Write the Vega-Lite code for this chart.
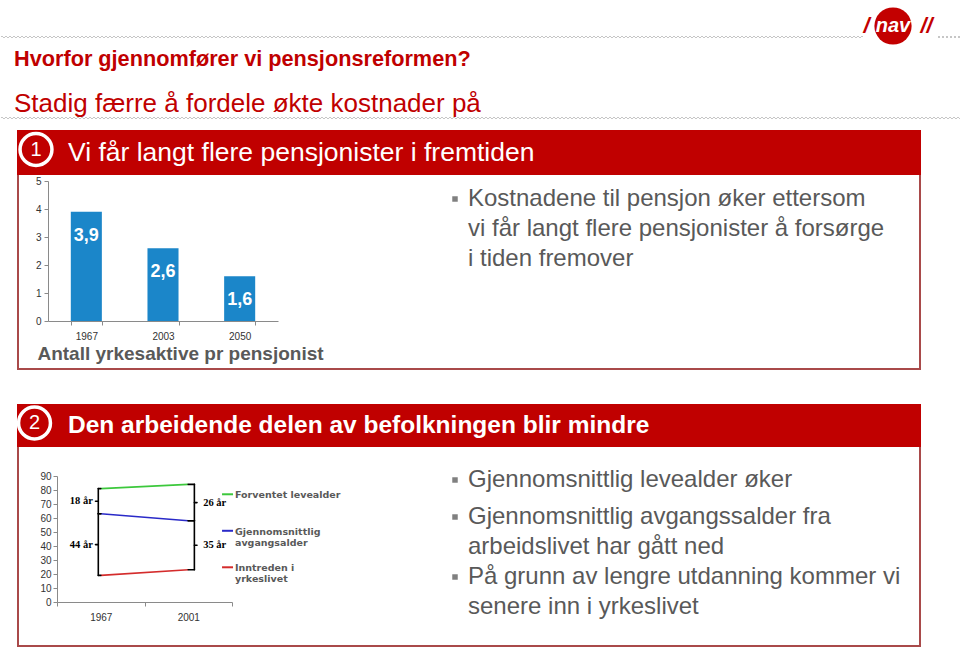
{
  "$schema": "https://vega.github.io/schema/vega-lite/v6.json",
  "padding": 0,
  "background": "white",
  "data": {"values": []},
  "spacing": 0,
  "bounds": "flush",
  "config": {
    "view": {"stroke": null},
    "concat": {"spacing": 0},
    "font": "Liberation Sans",
    "axis": {"labelFont": "Liberation Sans", "labelColor": "#333333", "labelFontSize": 10, "domainColor": "#8a8a8a", "tickColor": "#8a8a8a", "tickSize": 4, "grid": false, "titleFont": "Liberation Sans", "labelOverlap": false},
    "locale": {"number": {"decimal": ",", "thousands": " ", "grouping": [3], "currency": ["", " kr"]}}
  },
  "vconcat": [
    {"spacing": 0, "bounds": "flush", "hconcat": [
      {"spacing": 0, "bounds": "flush", "vconcat": [
        {"width": 862, "height": 36, "mark": {"type": "point", "opacity": 0}},
        {"spacing": 0, "bounds": "flush", "hconcat": [
          {"width": 1, "height": 1, "mark": {"type": "point", "opacity": 0}},
          {"width": 861, "height": 1, "mark": {"type": "point", "opacity": 0}, "view": {"stroke": "#8c8c8c", "strokeDash": [1, 3], "strokeWidth": 1}}
        ]}
      ]},
      {"width": 862, "height": 52, "mark": {"type": "point", "opacity": 0}},
      {"width": 9, "height": 52, "data": {"values": [{"t": "/"}]}, "mark": {"type": "text", "fontWeight": "bold", "fontStyle": "italic", "fontSize": 22, "color": "#c30000", "align": "center", "baseline": "middle"}, "encoding": {"text": {"field": "t", "type": "nominal"}}},
      {"width": 44, "height": 52, "data": {"values": [{"t": "nav"}]}, "layer": [
        {"mark": {"type": "point", "shape": "circle", "filled": true, "size": 1385, "color": "#c30000", "opacity": 1}},
        {"mark": {"type": "text", "fontWeight": "bold", "fontStyle": "italic", "fontSize": 20, "color": "white", "align": "center", "baseline": "middle"}, "encoding": {"text": {"field": "t", "type": "nominal"}}}
      ]},
      {"width": 23, "height": 52, "data": {"values": [{"t": "//"}]}, "mark": {"type": "text", "fontWeight": "bold", "fontStyle": "italic", "fontSize": 22, "color": "#c30000", "align": "center", "baseline": "middle"}, "encoding": {"text": {"field": "t", "type": "nominal"}}},
      {"spacing": 0, "bounds": "flush", "vconcat": [
        {"width": 22, "height": 36, "mark": {"type": "point", "opacity": 0}},
        {"width": 22, "height": 1, "mark": {"type": "point", "opacity": 0}, "view": {"stroke": "#8c8c8c", "strokeDash": [1, 3], "strokeWidth": 1}}
      ]},
      {"width": 22, "height": 52, "mark": {"type": "point", "opacity": 0}}
    ]},
    {"width": 960, "height": 52, "mark": {"type": "point", "opacity": 0}},
    {"spacing": 0, "bounds": "flush", "hconcat": [
      {"width": 13, "height": 65, "mark": {"type": "point", "opacity": 0}},
      {"spacing": 0, "bounds": "flush", "vconcat": [
        {"width": 2, "height": 13, "mark": {"type": "point", "opacity": 0}},
        {"width": 2, "height": 2, "data": {"values": [{"t": "Hvorfor gjennomfører vi pensjonsreformen?"}]}, "mark": {"type": "text", "align": "left", "baseline": "alphabetic", "fontWeight": "bold", "fontSize": 21.7, "color": "#c00000"}, "encoding": {"text": {"field": "t", "type": "nominal"}}},
        {"width": 2, "height": 44, "mark": {"type": "point", "opacity": 0}},
        {"width": 2, "height": 2, "data": {"values": [{"t": "Stadig færre å fordele økte kostnader på"}]}, "mark": {"type": "text", "align": "left", "baseline": "alphabetic", "fontSize": 26, "color": "#c00000"}, "encoding": {"text": {"field": "t", "type": "nominal"}}}
      ]}
    ]},
    {"width": 960, "height": 65, "mark": {"type": "point", "opacity": 0}},
    {"spacing": 0, "bounds": "flush", "hconcat": [
      {"width": 1, "height": 1, "mark": {"type": "point", "opacity": 0}},
      {"width": 959, "height": 1, "mark": {"type": "point", "opacity": 0}, "view": {"stroke": "#8c8c8c", "strokeDash": [1, 3], "strokeWidth": 1}}
    ]},
    {"width": 960, "height": 13, "mark": {"type": "point", "opacity": 0}},
    {"spacing": 0, "bounds": "flush", "hconcat": [
      {"width": 17, "height": 45, "mark": {"type": "point", "opacity": 0}},
      {"width": 904, "height": 45, "view": {"fill": "#c00000"}, "mark": {"type": "point", "opacity": 0}}
    ]},
    {"spacing": 0, "bounds": "flush", "hconcat": [
      {"width": 17, "height": 45, "mark": {"type": "point", "opacity": 0}},
      {"spacing": 0, "bounds": "flush", "vconcat": [
        {"width": 38, "height": 39, "data": {"values": [{"n": "1"}]}, "layer": [
          {"mark": {"type": "point", "shape": "circle", "filled": true, "size": 1018, "fill": "#c00000", "stroke": "white", "strokeWidth": 3.5, "opacity": 1}},
          {"mark": {"type": "text", "color": "white", "fontSize": 20, "align": "center", "baseline": "middle"}, "encoding": {"text": {"field": "n", "type": "nominal"}}}
        ]},
        {"width": 38, "height": 6, "mark": {"type": "point", "opacity": 0}}
      ]},
      {"width": 38, "height": 45, "mark": {"type": "point", "opacity": 0}},
      {"width": 12, "height": 45, "mark": {"type": "point", "opacity": 0}},
      {"width": 2, "height": 45, "data": {"values": [{"t": "Vi får langt flere pensjonister i fremtiden"}]}, "mark": {"type": "text", "align": "left", "baseline": "middle", "fontSize": 26.5, "color": "white"}, "encoding": {"text": {"field": "t", "type": "nominal"}}}
    ]},
    {"width": 960, "height": 45, "mark": {"type": "point", "opacity": 0}},
    {"spacing": 0, "bounds": "flush", "hconcat": [
      {"width": 17, "height": 193, "mark": {"type": "point", "opacity": 0}},
      {"width": 2, "height": 193, "view": {"fill": "#a94a4a"}, "mark": {"type": "point", "opacity": 0}},
      {"width": 29, "height": 193, "mark": {"type": "point", "opacity": 0}},
      {"spacing": 0, "bounds": "flush", "vconcat": [
        {"width": 230, "height": 6, "mark": {"type": "point", "opacity": 0}},
        {"width": 230, "height": 140,
         "data": {"values": [{"year": "1967", "value": 3.9}, {"year": "2003", "value": 2.6}, {"year": "2050", "value": 1.6}]},
         "encoding": {
           "x": {"field": "year", "type": "ordinal", "scale": {"paddingInner": 0.595, "paddingOuter": 0.2975},
                 "axis": {"title": "Antall yrkesaktive pr pensjonist", "titleFontSize": 19, "titleFontWeight": "bold", "titleColor": "#595959", "titlePadding": 3, "titleX": 132, "titleAlign": "center", "labelAngle": 0, "tickBand": "extent", "labelPadding": 6}},
           "y": {"field": "value", "type": "quantitative", "scale": {"domain": [0, 5], "nice": false},
                 "axis": {"title": null, "values": [0, 1, 2, 3, 4, 5], "labelPadding": 3}}
         },
         "layer": [
           {"mark": {"type": "bar", "color": "#1b86c9"}},
           {"mark": {"type": "text", "color": "white", "fontWeight": "bold", "fontSize": 18, "baseline": "middle", "dy": 24}, "encoding": {"text": {"field": "value", "type": "quantitative", "format": ".1f"}}}
         ]}
      ]},
      {"width": 230, "height": 193, "mark": {"type": "point", "opacity": 0}},
      {"width": 172, "height": 193, "mark": {"type": "point", "opacity": 0}},
      {"spacing": 0, "bounds": "flush", "vconcat": [
        {"width": 10, "height": 23, "mark": {"type": "point", "opacity": 0}},
        {"width": 10, "height": 2, "data": {"values": [{"b": 1}]}, "mark": {"type": "point", "shape": "square", "filled": true, "size": 30, "color": "#808080", "opacity": 1}}
      ]},
      {"width": 10, "height": 193, "mark": {"type": "point", "opacity": 0}},
      {"width": 7, "height": 193, "mark": {"type": "point", "opacity": 0}},
      {"spacing": 0, "bounds": "flush", "vconcat": [
        {"width": 2, "height": 30, "mark": {"type": "point", "opacity": 0}},
        {"width": 2, "height": 2, "data": {"values": [{"t": "Kostnadene til pensjon øker ettersom\nvi får langt flere pensjonister å forsørge\ni tiden fremover"}]}, "mark": {"type": "text", "align": "left", "baseline": "alphabetic", "fontSize": 24, "color": "#595959", "lineBreak": "\n", "lineHeight": 30}, "encoding": {"text": {"field": "t", "type": "nominal"}}}
      ]},
      {"width": 2, "height": 193, "mark": {"type": "point", "opacity": 0}},
      {"width": 450, "height": 193, "mark": {"type": "point", "opacity": 0}},
      {"width": 2, "height": 193, "view": {"fill": "#a94a4a"}, "mark": {"type": "point", "opacity": 0}}
    ]},
    {"width": 960, "height": 193, "mark": {"type": "point", "opacity": 0}},
    {"spacing": 0, "bounds": "flush", "hconcat": [
      {"width": 17, "height": 2, "mark": {"type": "point", "opacity": 0}},
      {"width": 904, "height": 2, "view": {"fill": "#a94a4a"}, "mark": {"type": "point", "opacity": 0}}
    ]},
    {"width": 960, "height": 2, "mark": {"type": "point", "opacity": 0}},
    {"width": 960, "height": 34, "mark": {"type": "point", "opacity": 0}},
    {"spacing": 0, "bounds": "flush", "hconcat": [
      {"width": 17, "height": 43, "mark": {"type": "point", "opacity": 0}},
      {"width": 904, "height": 43, "view": {"fill": "#c00000"}, "mark": {"type": "point", "opacity": 0}}
    ]},
    {"spacing": 0, "bounds": "flush", "hconcat": [
      {"width": 17, "height": 43, "mark": {"type": "point", "opacity": 0}},
      {"spacing": 0, "bounds": "flush", "vconcat": [
        {"width": 35, "height": 38, "data": {"values": [{"n": "2"}]}, "layer": [
          {"mark": {"type": "point", "shape": "circle", "filled": true, "size": 1018, "fill": "#c00000", "stroke": "white", "strokeWidth": 3.5, "opacity": 1}},
          {"mark": {"type": "text", "color": "white", "fontSize": 20, "align": "center", "baseline": "middle"}, "encoding": {"text": {"field": "n", "type": "nominal"}}}
        ]},
        {"width": 35, "height": 5, "mark": {"type": "point", "opacity": 0}}
      ]},
      {"width": 35, "height": 43, "mark": {"type": "point", "opacity": 0}},
      {"width": 15, "height": 43, "mark": {"type": "point", "opacity": 0}},
      {"width": 2, "height": 43, "data": {"values": [{"t": "Den arbeidende delen av befolkningen blir mindre"}]}, "mark": {"type": "text", "align": "left", "baseline": "middle", "fontWeight": "bold", "fontSize": 24.5, "color": "white"}, "encoding": {"text": {"field": "t", "type": "nominal"}}}
    ]},
    {"width": 960, "height": 43, "mark": {"type": "point", "opacity": 0}},
    {"spacing": 0, "bounds": "flush", "hconcat": [
      {"width": 17, "height": 198, "mark": {"type": "point", "opacity": 0}},
      {"width": 2, "height": 198, "view": {"fill": "#a94a4a"}, "mark": {"type": "point", "opacity": 0}},
      {"width": 38, "height": 198, "mark": {"type": "point", "opacity": 0}},
      {"spacing": 0, "bounds": "flush", "vconcat": [
        {"width": 175, "height": 29, "mark": {"type": "point", "opacity": 0}},
        {"width": 175, "height": 126,
         "resolve": {"scale": {"y": "independent"}, "axis": {"y": "independent"}},
         "layer": [
           {"layer": [
             {"data": {"values": [
                {"year": "1967", "series": "Forventet levealder", "age": 81},
                {"year": "2001", "series": "Forventet levealder", "age": 84},
                {"year": "1967", "series": "Gjennomsnittlig avgangsalder", "age": 63},
                {"year": "2001", "series": "Gjennomsnittlig avgangsalder", "age": 58},
                {"year": "1967", "series": "Inntreden i yrkeslivet", "age": 19},
                {"year": "2001", "series": "Inntreden i yrkeslivet", "age": 23}]},
              "mark": {"type": "line", "strokeWidth": 1.6},
              "encoding": {
                "x": {"field": "year", "type": "ordinal", "scale": {"type": "band", "domain": ["1967", "2001"], "paddingInner": 0, "paddingOuter": 0},
                      "axis": {"title": null, "labelAngle": 0, "tickBand": "extent", "labelPadding": 6}},
                "y": {"field": "age", "type": "quantitative", "scale": {"domain": [0, 90], "nice": false},
                      "axis": {"title": null, "values": [0, 10, 20, 30, 40, 50, 60, 70, 80, 90], "tickCount": 10, "labelPadding": 2, "labelOverlap": false}},
                "color": {"field": "series", "type": "nominal", "scale": {"domain": ["Forventet levealder", "Gjennomsnittlig avgangsalder", "Inntreden i yrkeslivet"], "range": ["#3cc83c", "#2a2ac8", "#d42c2c"]}, "legend": null}
              }},
             {"data": {"values": [
                {"year": "1967", "brace": "18 år", "age": 81}, {"year": "1967", "brace": "18 år", "age": 63},
                {"year": "1967", "brace": "44 år", "age": 63}, {"year": "1967", "brace": "44 år", "age": 19}]},
              "layer": [
                {"mark": {"type": "rule", "color": "#000000", "strokeWidth": 1.6, "strokeCap": "round"},
                 "encoding": {"x": {"field": "year", "type": "ordinal", "bandPosition": 0.472, "title": null}, "y": {"aggregate": "max", "field": "age", "type": "quantitative", "title": null, "axis": {"title": null, "values": [0, 10, 20, 30, 40, 50, 60, 70, 80, 90], "tickCount": 10, "labelPadding": 2, "labelOverlap": false}}, "y2": {"aggregate": "min", "field": "age"}, "detail": {"field": "brace", "type": "nominal"}}},
                {"mark": {"type": "rule", "color": "#000000", "strokeWidth": 1.6, "strokeCap": "round"},
                 "encoding": {"x": {"field": "year", "type": "ordinal", "bandPosition": 0.472, "title": null}, "x2": {"field": "year", "bandPosition": 0.5}, "y": {"field": "age", "type": "quantitative", "title": null, "axis": {"title": null, "values": [0, 10, 20, 30, 40, 50, 60, 70, 80, 90], "tickCount": 10, "labelPadding": 2, "labelOverlap": false}}}},
                {"mark": {"type": "rule", "color": "#000000", "strokeWidth": 1.6, "strokeCap": "round"},
                 "encoding": {"x": {"field": "year", "type": "ordinal", "bandPosition": 0.44, "title": null}, "x2": {"field": "year", "bandPosition": 0.472}, "y": {"aggregate": "mean", "field": "age", "type": "quantitative", "title": null, "axis": {"title": null, "values": [0, 10, 20, 30, 40, 50, 60, 70, 80, 90], "tickCount": 10, "labelPadding": 2, "labelOverlap": false}}, "detail": {"field": "brace", "type": "nominal"}}},
                {"mark": {"type": "text", "align": "right", "baseline": "middle", "font": "Liberation Serif", "fontWeight": "bold", "fontSize": 10.5, "color": "#000000"},
                 "encoding": {"x": {"field": "year", "type": "ordinal", "bandPosition": 0.41, "title": null}, "y": {"aggregate": "mean", "field": "age", "type": "quantitative", "title": null, "axis": {"title": null, "values": [0, 10, 20, 30, 40, 50, 60, 70, 80, 90], "tickCount": 10, "labelPadding": 2, "labelOverlap": false}}, "text": {"field": "brace", "type": "nominal"}}}
              ]},
             {"data": {"values": [
                {"year": "2001", "brace": "26 år", "age": 84}, {"year": "2001", "brace": "26 år", "age": 58},
                {"year": "2001", "brace": "35 år", "age": 58}, {"year": "2001", "brace": "35 år", "age": 23}]},
              "layer": [
                {"mark": {"type": "rule", "color": "#000000", "strokeWidth": 1.6, "strokeCap": "round"},
                 "encoding": {"x": {"field": "year", "type": "ordinal", "bandPosition": 0.57, "title": null}, "y": {"aggregate": "max", "field": "age", "type": "quantitative", "title": null, "axis": {"title": null, "values": [0, 10, 20, 30, 40, 50, 60, 70, 80, 90], "tickCount": 10, "labelPadding": 2, "labelOverlap": false}}, "y2": {"aggregate": "min", "field": "age"}, "detail": {"field": "brace", "type": "nominal"}}},
                {"mark": {"type": "rule", "color": "#000000", "strokeWidth": 1.6, "strokeCap": "round"},
                 "encoding": {"x": {"field": "year", "type": "ordinal", "bandPosition": 0.5, "title": null}, "x2": {"field": "year", "bandPosition": 0.57}, "y": {"field": "age", "type": "quantitative", "title": null, "axis": {"title": null, "values": [0, 10, 20, 30, 40, 50, 60, 70, 80, 90], "tickCount": 10, "labelPadding": 2, "labelOverlap": false}}}},
                {"mark": {"type": "rule", "color": "#000000", "strokeWidth": 1.6, "strokeCap": "round"},
                 "encoding": {"x": {"field": "year", "type": "ordinal", "bandPosition": 0.57, "title": null}, "x2": {"field": "year", "bandPosition": 0.6}, "y": {"aggregate": "mean", "field": "age", "type": "quantitative", "title": null, "axis": {"title": null, "values": [0, 10, 20, 30, 40, 50, 60, 70, 80, 90], "tickCount": 10, "labelPadding": 2, "labelOverlap": false}}, "detail": {"field": "brace", "type": "nominal"}}},
                {"mark": {"type": "text", "align": "left", "baseline": "middle", "font": "Liberation Serif", "fontWeight": "bold", "fontSize": 10.5, "color": "#000000"},
                 "encoding": {"x": {"field": "year", "type": "ordinal", "bandPosition": 0.67, "title": null}, "y": {"aggregate": "mean", "field": "age", "type": "quantitative", "title": null, "axis": {"title": null, "values": [0, 10, 20, 30, 40, 50, 60, 70, 80, 90], "tickCount": 10, "labelPadding": 2, "labelOverlap": false}}, "text": {"field": "brace", "type": "nominal"}}}
              ]}
           ]},
           {"data": {"values": [
              {"series": "Forventet levealder", "label": "Forventet levealder"},
              {"series": "Gjennomsnittlig avgangsalder", "label": "Gjennomsnittlig\navgangsalder"},
              {"series": "Inntreden i yrkeslivet", "label": "Inntreden i\nyrkeslivet"}]},
            "encoding": {"y": {"field": "series", "type": "nominal", "scale": {"type": "point", "domain": ["Forventet levealder", "Gjennomsnittlig avgangsalder", "Inntreden i yrkeslivet"], "padding": 0.726, "align": 0.345}, "axis": null}},
            "layer": [
              {"mark": {"type": "point", "shape": "stroke", "size": 121, "strokeWidth": 2, "opacity": 1},
               "encoding": {"x": {"datum": "2001", "type": "ordinal", "bandPosition": 0.949}, "color": {"field": "series", "type": "nominal", "legend": null}}},
              {"mark": {"type": "text", "align": "left", "baseline": "alphabetic", "dy": 4, "font": "DejaVu Sans", "fontWeight": "bold", "fontSize": 9.5, "color": "#595959", "lineBreak": "\n", "lineHeight": 11},
               "encoding": {"x": {"datum": "2001", "type": "ordinal", "bandPosition": 1.034}, "text": {"field": "label", "type": "nominal"}}}
            ]}
         ]}
      ]},
      {"width": 175, "height": 198, "mark": {"type": "point", "opacity": 0}},
      {"width": 218, "height": 198, "mark": {"type": "point", "opacity": 0}},
      {"spacing": 0, "bounds": "flush", "vconcat": [
        {"width": 10, "height": 32, "mark": {"type": "point", "opacity": 0}},
        {"width": 10, "height": 2, "data": {"values": [{"b": 1}]}, "mark": {"type": "point", "shape": "square", "filled": true, "size": 30, "color": "#808080", "opacity": 1}},
        {"width": 10, "height": 35, "mark": {"type": "point", "opacity": 0}},
        {"width": 10, "height": 2, "data": {"values": [{"b": 2}]}, "mark": {"type": "point", "shape": "square", "filled": true, "size": 30, "color": "#808080", "opacity": 1}},
        {"width": 10, "height": 58, "mark": {"type": "point", "opacity": 0}},
        {"width": 10, "height": 2, "data": {"values": [{"b": 3}]}, "mark": {"type": "point", "shape": "square", "filled": true, "size": 30, "color": "#808080", "opacity": 1}}
      ]},
      {"width": 10, "height": 198, "mark": {"type": "point", "opacity": 0}},
      {"width": 7, "height": 198, "mark": {"type": "point", "opacity": 0}},
      {"spacing": 0, "bounds": "flush", "vconcat": [
        {"width": 2, "height": 39, "mark": {"type": "point", "opacity": 0}},
        {"width": 2, "height": 2, "data": {"values": [{"t": "Gjennomsnittlig levealder øker"}]}, "mark": {"type": "text", "align": "left", "baseline": "alphabetic", "fontSize": 24, "color": "#595959"}, "encoding": {"text": {"field": "t", "type": "nominal"}}},
        {"width": 2, "height": 35, "mark": {"type": "point", "opacity": 0}},
        {"width": 2, "height": 2, "data": {"values": [{"t": "Gjennomsnittlig avgangssalder fra\narbeidslivet har gått ned"}]}, "mark": {"type": "text", "align": "left", "baseline": "alphabetic", "fontSize": 24, "color": "#595959", "lineBreak": "\n", "lineHeight": 29.5}, "encoding": {"text": {"field": "t", "type": "nominal"}}},
        {"width": 2, "height": 58, "mark": {"type": "point", "opacity": 0}},
        {"width": 2, "height": 2, "data": {"values": [{"t": "På grunn av lengre utdanning kommer vi\nsenere inn i yrkeslivet"}]}, "mark": {"type": "text", "align": "left", "baseline": "alphabetic", "fontSize": 24, "color": "#595959", "lineBreak": "\n", "lineHeight": 29.5}, "encoding": {"text": {"field": "t", "type": "nominal"}}}
      ]},
      {"width": 2, "height": 198, "mark": {"type": "point", "opacity": 0}},
      {"width": 450, "height": 198, "mark": {"type": "point", "opacity": 0}},
      {"width": 2, "height": 198, "view": {"fill": "#a94a4a"}, "mark": {"type": "point", "opacity": 0}}
    ]},
    {"width": 960, "height": 198, "mark": {"type": "point", "opacity": 0}},
    {"spacing": 0, "bounds": "flush", "hconcat": [
      {"width": 17, "height": 2, "mark": {"type": "point", "opacity": 0}},
      {"width": 904, "height": 2, "view": {"fill": "#a94a4a"}, "mark": {"type": "point", "opacity": 0}}
    ]},
    {"width": 960, "height": 2, "mark": {"type": "point", "opacity": 0}}
  ]
}
